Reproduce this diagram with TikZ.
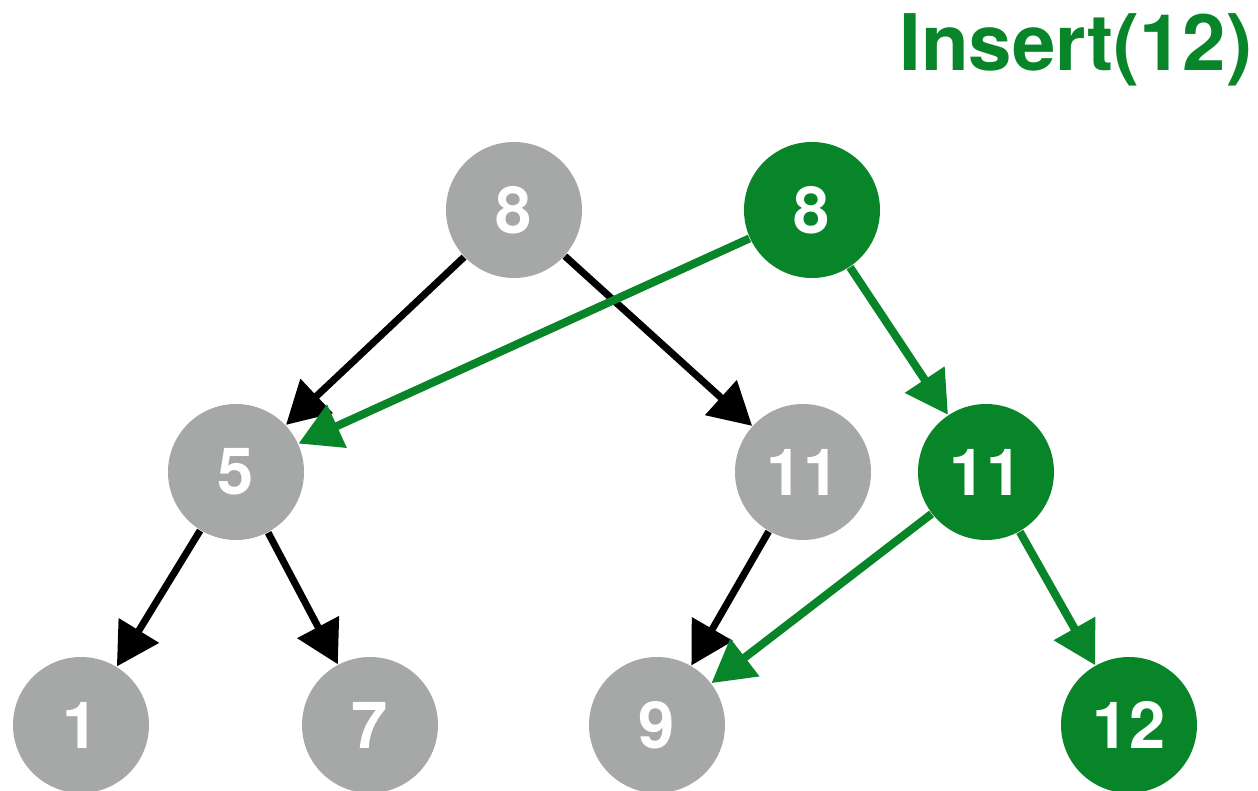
\documentclass[tikz,border=0pt]{standalone}
\usepackage{fontspec}
\setmainfont{TeX Gyre Heros}
\usetikzlibrary{arrows.meta}
\definecolor{treegray}{HTML}{A5A8A6}
\definecolor{treegreen}{HTML}{088528}
\begin{document}
\begin{tikzpicture}[
  old/.style={circle, fill=treegray, text=white, minimum size=1.36cm, inner sep=0pt, font=\fontsize{18.5}{20}\selectfont\bfseries},
  new/.style={old, fill=treegreen},
  >={Triangle[length=12pt,width=13pt]}]
\useasboundingbox (0,0) rectangle (12.58,-7.91);
\node[old] (8) at (5.14,-2.10) {8};
\node[new] (8b) at (8.12,-2.10) {8};
\node[old] (5) at (2.36,-4.72) {5};
\node[old] (11) at (8.03,-4.72) {11};
\node[new] (11b) at (9.86,-4.72) {11};
\node[old] (1) at (0.81,-7.25) {1};
\node[old] (7) at (3.70,-7.25) {7};
\node[old] (9) at (6.57,-7.25) {9};
\node[new] (12) at (11.29,-7.25) {12};
\node[anchor=base east, inner sep=0pt, text=treegreen, font=\fontsize{22.2}{24}\selectfont\bfseries] (title) at (12.53,-0.70) {Insert(12)};

\path[draw,line width=2pt,->] (8) -- (5);
\path[draw,line width=2pt,->] (8) -- (11);
\path[draw,line width=2pt,->] (5) -- (1);
\path[draw,line width=2pt,->] (5) -- (7);
\path[draw,line width=2pt,->] (11) -- (9);
\path[draw,line width=2.3pt,->,treegreen] (8b) -- (5);
\path[draw,line width=2.3pt,->,treegreen] (8b) -- (11b);
\path[draw,line width=2.3pt,->,treegreen] (11b) -- (9);
\path[draw,line width=2.3pt,->,treegreen] (11b) -- (12);
\end{tikzpicture}
\end{document}
